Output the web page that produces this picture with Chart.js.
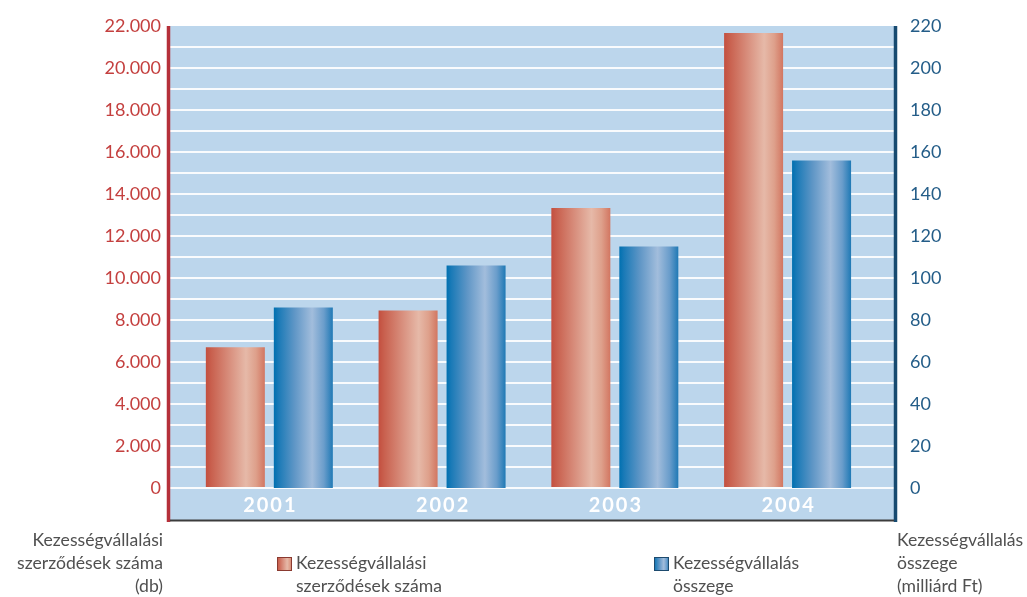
<!DOCTYPE html>
<html>
<head>
<meta charset="utf-8">
<script src="https://cdn.jsdelivr.net/npm/chart.js@4/dist/chart.umd.min.js"></script>
<style>
  html, body { margin: 0; padding: 0; background: #fff; }
</style>
</head>
<body>
<canvas id="myChart" width="1027" height="597"></canvas>
<script>
// data
const years = ['2001', '2002', '2003', '2004'];
const contracts = [6700, 8450, 13330, 21670];   // db, left axis
const amounts = [86, 106, 115, 156];            // milliard Ft, right axis
const contractsLabel = ['Kezességvállalási', 'szerződések száma'];
const amountsLabel = ['Kezességvállalás', 'összege'];
const leftTitle = ['Kezességvállalási', 'szerződések száma', '(db)'];
const rightTitle = ['Kezességvállalás', 'összege', '(milliárd Ft)'];

const FONT = 'Lato, "Open Sans", sans-serif';
const RED = '#c4403f';
const BLUE = '#245d88';

const redStops = [[0, '#c34f3f'], [0.1, '#c9614f'], [0.68, '#e6b9a8'], [0.85, '#dea08b'], [1, '#d27661']];
const blueStops = [[0, '#0070b0'], [0.08, '#1a7ab7'], [0.35, '#5f96c6'], [0.65, '#a2bddc'], [0.85, '#6a9dcb'], [1, '#1f79b5']];

const makeGrad = function(ctx, x0, x1, stops) {
    const g = ctx.createLinearGradient(x0, 0, x1, 0);
    stops.forEach(s => g.addColorStop(s[0], s[1]));
    return g;
};

const fmtThousands = function(v) {
    if (v === 0) return '0';
    return String(v / 1000) + '.000';
};

const decor = {
    id: 'decor',
    beforeDraw(chart) {
        const ctx = chart.ctx;
        const ca = chart.chartArea;
        const xs = chart.scales.x;
        ctx.save();
        ctx.fillStyle = '#bcd6ec';
        ctx.fillRect(ca.left, ca.top, ca.right - ca.left, xs.bottom - ca.top);
        ctx.restore();
    },
    beforeDatasetsDraw(chart) {
        const ctx = chart.ctx;
        chart.data.datasets.forEach((ds, di) => {
            const meta = chart.getDatasetMeta(di);
            const stops = di === 0 ? redStops : blueStops;
            meta.data.forEach(el => {
                const half = el.width / 2;
                el.options = Object.assign({}, el.options, {
                    backgroundColor: makeGrad(ctx, el.x - half, el.x + half, stops)
                });
            });
        });
    },
    afterDraw(chart) {
        const ctx = chart.ctx;
        const ca = chart.chartArea;
        const xs = chart.scales.x;
        ctx.save();
        // axis lines
        ctx.lineWidth = 3.5;
        ctx.strokeStyle = '#b5303a';
        ctx.beginPath();
        ctx.moveTo(ca.left - 1.5, ca.top);
        ctx.lineTo(ca.left - 1.5, xs.bottom + 1);
        ctx.stroke();
        ctx.strokeStyle = '#174a70';
        ctx.beginPath();
        ctx.moveTo(ca.right + 1.5, ca.top);
        ctx.lineTo(ca.right + 1.5, xs.bottom + 1);
        ctx.stroke();
        ctx.lineWidth = 2;
        ctx.strokeStyle = '#3c3c3c';
        ctx.beginPath();
        ctx.moveTo(ca.left, xs.bottom - 0.5);
        ctx.lineTo(ca.right, xs.bottom - 0.5);
        ctx.stroke();

        // year labels inside the band
        ctx.fillStyle = '#ffffff';
        ctx.font = 'bold 20px ' + FONT;
        ctx.letterSpacing = '2px';
        ctx.textAlign = 'center';
        ctx.textBaseline = 'middle';
        years.forEach(y => {
            ctx.fillText(y, xs.getPixelForValue(+y) + 1, (ca.bottom + xs.bottom) / 2 + 1);
        });
        ctx.letterSpacing = '0px';

        // axis titles
        ctx.fillStyle = '#505050';
        ctx.font = '17.6px ' + FONT;
        ctx.textBaseline = 'alphabetic';
        ctx.textAlign = 'right';
        leftTitle.forEach((t, i) => ctx.fillText(t, ca.left - 7, xs.bottom + 25 + i * 23));
        ctx.textAlign = 'left';
        rightTitle.forEach((t, i) => ctx.fillText(t, ca.right + 3, xs.bottom + 25 + i * 23));

        // legend
        const items = [
            { x: 277, lines: contractsLabel, stops: redStops, edge: '#8a3a30' },
            { x: 654, lines: amountsLabel, stops: blueStops, edge: '#1d4a6e' }
        ];
        items.forEach(it => {
            const by = xs.bottom + 36;
            ctx.fillStyle = makeGrad(ctx, it.x, it.x + 15, it.stops);
            ctx.fillRect(it.x, by, 15, 14);
            ctx.lineWidth = 1;
            ctx.strokeStyle = it.edge;
            ctx.strokeRect(it.x + 0.5, by + 0.5, 14, 13);
            ctx.fillStyle = '#505050';
            it.lines.forEach((t, i) => ctx.fillText(t, it.x + 19, xs.bottom + 48 + i * 23));
        });
        ctx.restore();
    }
};

const canvas = document.getElementById('myChart');
const myChart = new Chart(canvas, {
    type: 'bar',
    data: {
        datasets: [{
            label: contractsLabel.join(' '),
            data: years.map((y, i) => ({ x: +y, y: contracts[i] })),
            yAxisID: 'yL',
            backgroundColor: () => '#d27661',
            borderWidth: 0
        }, {
            label: amountsLabel.join(' '),
            data: years.map((y, i) => ({ x: +y, y: amounts[i] })),
            yAxisID: 'yR',
            backgroundColor: () => '#1f79b5',
            borderWidth: 0
        }]
    },
    options: {
        responsive: false,
        animation: false,
        devicePixelRatio: 1,
        categoryPercentage: 0.787,
        barPercentage: 0.868,
        layout: { padding: { top: 26, bottom: 76, left: 0, right: 0 } },
        plugins: {
            legend: { display: false },
            tooltip: { enabled: false }
        },
        scales: {
            x: {
                type: 'linear',
                position: 'bottom',
                offset: false,
                min: 2000.425,
                max: 2004.616,
                ticks: { stepSize: 1, includeBounds: false, display: false },
                grid: { display: false, offset: false },
                border: { display: false },
                afterFit: s => { s.height = 33; }
            },
            yL: {
                type: 'linear',
                position: 'left',
                min: 0,
                max: 22000,
                ticks: {
                    stepSize: 1000,
                    autoSkip: false,
                    padding: 9,
                    color: RED,
                    font: { family: FONT, size: 18 },
                    callback: v => (v % 2000 === 0 ? fmtThousands(v) : '')
                },
                grid: {
                    drawTicks: false,
                    lineWidth: 2,
                    color: c => (c.tick && c.tick.value === 22000 ? 'rgba(0,0,0,0)' : 'rgba(255,255,255,0.9)')
                },
                border: { display: false },
                afterFit: s => { s.width = 170; }
            },
            yR: {
                type: 'linear',
                position: 'right',
                min: 0,
                max: 220,
                ticks: {
                    stepSize: 20,
                    padding: 8,
                    color: BLUE,
                    font: { family: FONT, size: 18 }
                },
                grid: { display: false },
                border: { display: false },
                afterFit: s => { s.width = 133; }
            }
        }
    },
    plugins: [decor]
});
</script>
</body>
</html>
